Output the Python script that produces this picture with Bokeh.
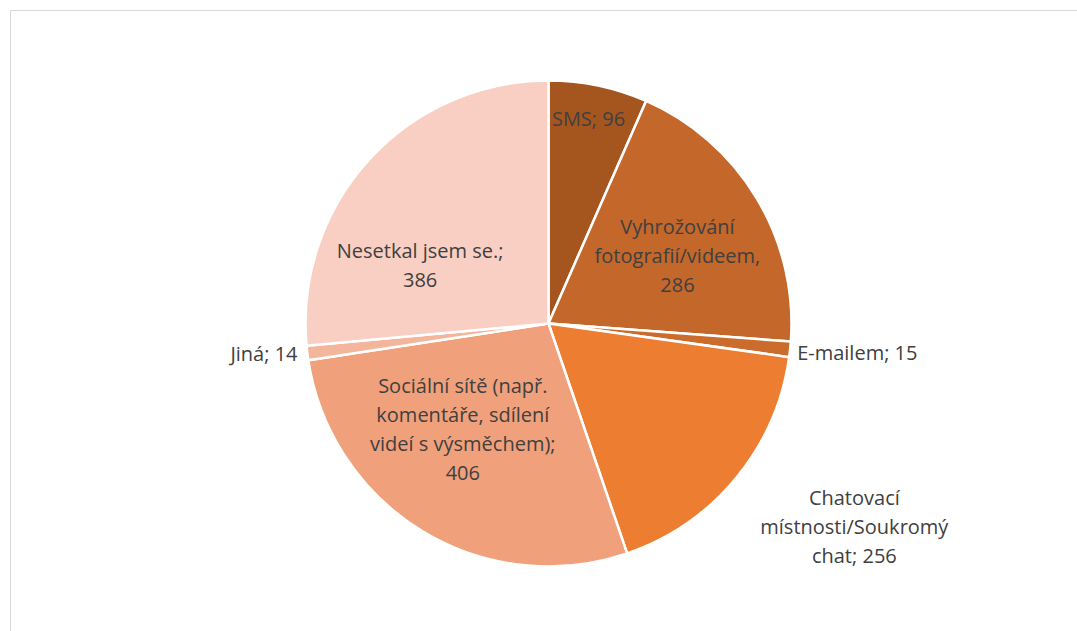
import math
from bokeh.plotting import figure
from bokeh.models import Range1d, ColumnDataSource
from bokeh.core.properties import value
from bokeh.embed import file_html
from bokeh.resources import INLINE

# ---- data ----
categories = ["SMS", "Vyhrožování fotografií/videem", "E-mailem",
              "Chatovací místnosti/Soukromý chat",
              "Sociální sítě (např. komentáře, sdílení videí s výsměchem)",
              "Jiná", "Nesetkal jsem se."]
values = [96, 286, 15, 256, 406, 14, 386]

# ---- style ----
colors = ["#A5561F", "#C3672A", "#CC6C2C", "#ED7D31", "#F0A07B", "#F3B59C", "#F8CFC2"]
label_templates = ["SMS; {v}", "Vyhrožování\nfotografií/videem,\n{v}", "E-mailem; {v}",
                   "Chatovací\nmístnosti/Soukromý\nchat; {v}",
                   "Sociální sítě (např.\nkomentáře, sdílení\nvideí s výsměchem);\n{v}",
                   "Jiná; {v}", "Nesetkal jsem se.;\n{v}"]
label_angle_shift = [-0.8, 3.2, 0.5, -6.0, 7.8, 0.2, -18.0]   # degrees
label_radius = [0.86, 0.60, 1.03, 1.51, 0.56, 1.04, 0.58]
label_align = ["center", "center", "left", "center", "center", "right", "center"]

W, H = 1077, 631
cx, cy, R = 548, H - 323, 243

total = sum(values)
starts, ends, mids = [], [], []
cum = 0.0
for v in values:
    f0 = cum / total
    cum += v
    f1 = cum / total
    # clockwise from top
    starts.append(math.pi / 2 - 2 * math.pi * f1)
    ends.append(math.pi / 2 - 2 * math.pi * f0)
    mids.append(360.0 * (f0 + f1) / 2)

p = figure(width=W, height=H, output_backend="svg", toolbar_location=None,
           x_range=Range1d(0, W), y_range=Range1d(0, H), min_border=0)
p.axis.visible = False
p.grid.visible = False
p.outline_line_color = None
p.background_fill_color = "white"
p.border_fill_color = "white"

# chart-area border (left and top edges visible)
p.segment(x0=[10, 10], y0=[H - 10, H - 10], x1=[10, W + 5], y1=[-5, H - 10],
          line_color="#D9D9D9", line_width=1)

src = ColumnDataSource(dict(start=starts, end=ends, color=colors, cat=categories, val=values))
p.wedge(x=cx, y=cy, radius=R, start_angle="start", end_angle="end", direction="anticlock",
        fill_color="color", line_color="white", line_width=2.5, source=src)

lx, ly, lt = [], [], []
for i, v in enumerate(values):
    a = math.radians(mids[i] + label_angle_shift[i])
    r = R * label_radius[i]
    lx.append(cx + r * math.sin(a))
    ly.append(cy + r * math.cos(a))
    lt.append(label_templates[i].format(v=v))

lsrc = ColumnDataSource(dict(x=lx, y=ly, text=lt, align=label_align))
p.text(x="x", y="y", text="text", text_align="align", text_baseline="middle",
       text_font=value("Open Sans"), text_font_size="20px", text_color="#404040",
       text_line_height=1.07, source=lsrc)

open("out.html", "w").write(file_html(p, INLINE))
